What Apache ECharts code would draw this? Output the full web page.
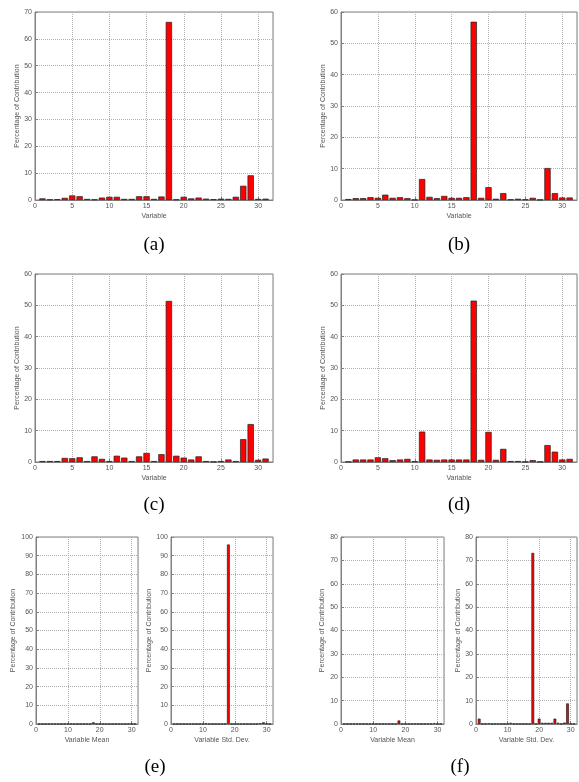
<!DOCTYPE html>
<html>
<head>
<meta charset="utf-8">
<script src="https://cdn.jsdelivr.net/npm/echarts@6/dist/echarts.min.js"></script>
<style>html,body{margin:0;padding:0;background:#fff}#c{width:579px;height:782px}</style>
</head>
<body>
<div id="c"></div>
<script>
const variables = [1,2,3,4,5,6,7,8,9,10,11,12,13,14,15,16,17,18,19,20,21,22,23,24,25,26,27,28,29,30,31];
const valuesA = [0.6,0.2,0.3,0.8,1.7,1.4,0.4,0.2,0.9,1.2,1.2,0.4,0.4,1.4,1.4,0.4,1.3,66.3,0.2,1.2,0.6,0.9,0.5,0.3,0.5,0.4,1.2,5.3,9.2,0.4,0.5];
const valuesB = [0.3,0.6,0.6,0.9,0.7,1.7,0.7,0.9,0.6,0.1,6.7,1.0,0.6,1.3,0.7,0.7,0.9,56.9,0.7,4.1,0.4,2.2,0.2,0.4,0.2,0.7,0.1,10.2,2.2,0.8,0.8];
const valuesC = [0.3,0.3,0.3,1.3,1.2,1.5,0.3,1.8,1.0,0.3,2.0,1.4,0.3,1.8,2.9,0.3,2.5,51.4,2.0,1.4,0.8,1.8,0.3,0.1,0.3,0.8,0.3,7.3,12.1,0.7,1.1];
const valuesD = [0.1,0.8,0.8,0.8,1.5,1.2,0.6,0.8,1.0,0.2,9.7,0.8,0.7,0.8,0.8,0.8,0.8,51.5,0.7,9.6,0.7,4.2,0.3,0.3,0.1,0.6,0.1,5.4,3.3,0.8,1.0];
const valuesEMean = [0.1,0.1,0.1,0.1,0.1,0.1,0.1,0.1,0.1,0.1,0.1,0.1,0.1,0.1,0.1,0.1,0.1,0.9,0.1,0.1,0.1,0.1,0.1,0.1,0.1,0.1,0.1,0.1,0.2,0.1,0.1];
const valuesEStd = [0.1,0.1,0.1,0.1,0.1,0.1,0.1,0.1,0.1,0.1,0.3,0.1,0.1,0.1,0.1,0.1,0.1,96.0,0.1,0.1,0.1,0.1,0.1,0.1,0.1,0.1,0.1,0.4,0.9,0.3,0.1];
const valuesFMean = [0.1,0.1,0.1,0.1,0.1,0.1,0.1,0.1,0.1,0.1,0.1,0.1,0.1,0.1,0.1,0.1,0.1,1.5,0.1,0.1,0.1,0.1,0.1,0.1,0.1,0.1,0.1,0.1,0.3,0.1,0.1];
const valuesFStd = [2.3,0.1,0.1,0.3,0.1,0.1,0.1,0.1,0.1,0.1,0.5,0.1,0.1,0.1,0.1,0.1,0.1,73.2,0.1,2.3,0.5,0.5,0.5,0.5,2.3,0.5,0.1,0.6,8.8,0.2,0.1];
const panelLabels = ['(a)','(b)','(c)','(d)','(e)','(f)'];
const xNames = ['Variable','Variable','Variable','Variable','Variable Mean','Variable Std. Dev.','Variable Mean','Variable Std. Dev.'];
const yName = 'Percentage of Contribution';

const panels = [
  {v: valuesA, g:{left:35, top:12, width:238, height:188}, ymax:70, xi:5, bw:6.3, ng:14},
  {v: valuesB, g:{left:341, top:12, width:236, height:188}, ymax:60, xi:5, bw:6.3, ng:14},
  {v: valuesC, g:{left:35, top:274, width:238, height:188}, ymax:60, xi:5, bw:6.3, ng:14},
  {v: valuesD, g:{left:341, top:274, width:236, height:188}, ymax:60, xi:5, bw:6.3, ng:14},
  {v: valuesEMean, g:{left:36, top:537, width:102, height:187}, ymax:100, xi:10, bw:2.8, ng:19},
  {v: valuesEStd, g:{left:171, top:537, width:102, height:187}, ymax:100, xi:10, bw:2.8, ng:17},
  {v: valuesFMean, g:{left:341, top:537, width:103, height:187}, ymax:80, xi:10, bw:2.8, ng:15},
  {v: valuesFStd, g:{left:476, top:537, width:101, height:187}, ymax:80, xi:10, bw:2.8, ng:14}
];
const txt = '#555';
const font = 'Liberation Sans';
const grid = [], xAxis = [], yAxis = [], series = [];
panels.forEach((p, i) => {
  grid.push(Object.assign({show:true, borderColor:'#808080', borderWidth:1, backgroundColor:'#fff', containLabel:false}, p.g));
  xAxis.push({type:'value', gridIndex:i, min:0, max:32, interval:p.xi,
    name:xNames[i], nameLocation:'middle', nameGap:13,
    nameTextStyle:{fontSize:7, color:txt, fontFamily:font},
    axisLine:{show:true, lineStyle:{color:'#808080', width:1}},
    axisTick:{show:true, inside:true, length:3, lineStyle:{color:'#808080'}},
    axisLabel:{fontSize:7, color:txt, margin:3, fontFamily:font, showMaxLabel:false},
    splitLine:{show:true, lineStyle:{type:'dotted', color:'#b0b0b0', width:1}}});
  yAxis.push({type:'value', gridIndex:i, min:0, max:p.ymax, interval:10,
    name:yName, nameLocation:'middle', nameRotate:90, nameGap:p.ng,
    nameTextStyle:{fontSize:7, color:txt, fontFamily:font},
    axisLine:{show:true, lineStyle:{color:'#808080', width:1}},
    axisTick:{show:true, inside:true, length:3, lineStyle:{color:'#808080'}},
    axisLabel:{fontSize:7, color:txt, margin:3, fontFamily:font},
    splitLine:{show:true, lineStyle:{type:'dotted', color:'#b0b0b0', width:1}}});
  series.push({type:'bar', xAxisIndex:i, yAxisIndex:i, barWidth:p.bw,
    data: variables.map((x, k) => [x, p.v[k]]),
    itemStyle:{color:'#ff0000', borderColor:'#222', borderWidth:0.7},
    animation:false, silent:true});
});
const labelPos = [[154,245],[459,245],[154,505],[459,505],[155,767],[460,767]];
const graphic = panelLabels.map((t, i) => ({type:'text', x:labelPos[i][0], y:labelPos[i][1],
  style:{text:t, font:'19px "Liberation Serif"', fill:'#000', textAlign:'center', textVerticalAlign:'middle'}}));
const chart = echarts.init(document.getElementById('c'));
chart.setOption({animation:false, grid, xAxis, yAxis, series, graphic});
</script>
</body>
</html>
